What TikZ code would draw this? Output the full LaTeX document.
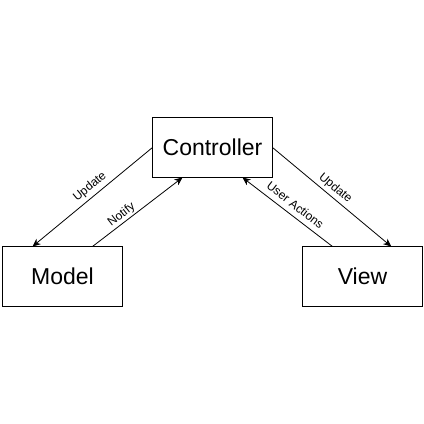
\documentclass[tikz,border=0pt]{standalone}
\usepackage{fontspec}
\setmainfont{Liberation Sans}
\usetikzlibrary{calc,arrows.meta}
\begin{document}
\begin{tikzpicture}[x=1pt,y=1pt,
  box/.style={draw=black,line width=1pt,minimum width=120pt,minimum height=60pt,inner sep=0pt,outer sep=0pt,font=\fontsize{23}{27}\selectfont},
  conn/.style={line width=0.8pt,-{Stealth[length=8pt,width=7pt,inset=2.5pt]}},
  lbl/.style={inner sep=0pt,font=\fontsize{12}{14}\selectfont}]
\fill[white] (0,0) rectangle (424,424);
\useasboundingbox (0,0) rectangle (424,424);
\node[box] (ctrl) at (212.5,276.5) {Controller};
\node[box] (model) at (62.5,147.5) {Model};
\node[box] (view) at (362.5,147.5) {View};
\coordinate (mA) at ($(model.north west)!0.25!(model.north east)$);
\coordinate (mB) at ($(model.north west)!0.75!(model.north east)$);
\coordinate (cA) at ($(ctrl.south west)!0.25!(ctrl.south east)$);
\coordinate (cB) at ($(ctrl.south west)!0.75!(ctrl.south east)$);
\coordinate (vA) at ($(view.north west)!0.25!(view.north east)$);
\coordinate (vB) at ($(view.north west)!0.74!(view.north east)$);
\draw[conn] (ctrl.west) -- (mA);
\draw[conn] (mB) -- (cA);
\draw[conn] (ctrl.east) -- (vB);
\draw[conn] (vA) -- (cB);
\node[lbl,rotate=39.5] (l1) at (90,237) {Update};
\node[lbl,rotate=37.8] (l2) at (121.7,209) {Notify};
\node[lbl,rotate=-40] (l3) at (335.3,235.7) {Update};
\node[lbl,rotate=-37.7] (l4) at (295.3,219) {User Actions};
\end{tikzpicture}
\end{document}
